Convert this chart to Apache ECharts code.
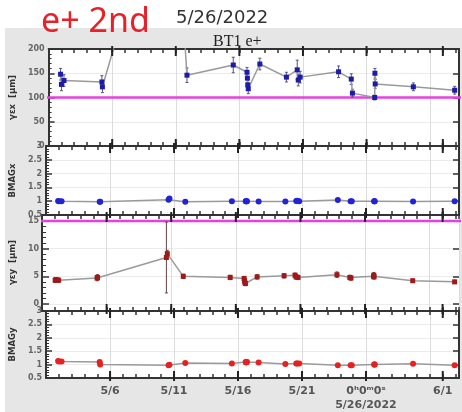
<!DOCTYPE html>
<html><head><meta charset="utf-8">
<script src="https://cdn.jsdelivr.net/npm/echarts@6/dist/echarts.min.js"></script>
<style>html,body{margin:0;padding:0;background:#fff}#c{width:462px;height:412px}</style>
</head><body><div id="c"></div>
<script>
// ---- data ----
const times = ['2022-05-01T22:34','2022-05-02T00:14','2022-05-02T05:02','2022-05-05T04:34','2022-05-05T05:31',
  '2022-05-10T13:41','2022-05-10T15:22','2022-05-11T21:07','2022-05-15T12:29','2022-05-16T14:24',
  '2022-05-16T15:07','2022-05-16T15:50','2022-05-16T16:48','2022-05-17T14:38','2022-05-19T16:48',
  '2022-05-20T13:12','2022-05-20T15:07','2022-05-20T18:43','2022-05-23T19:12','2022-05-24T19:12',
  '2022-05-24T21:22','2022-05-26T15:22','2022-05-26T15:50','2022-05-26T16:19','2022-05-29T16:19','2022-06-01T22:19'];
const emitX    = [148,127,135,132,122,600,650,146,167,152,140,126,118,169,142,157,136,142,153,138,109,100,150,128,122,115];
const emitXErr = [12,13,12,13,12,40,40,15,16,10,10,10,10,12,10,20,12,12,12,11,8,5,10,9,8,8];
const bmagX    = [1.01,1.0,1.0,0.98,0.98,1.05,1.1,0.98,1.0,1.0,1.0,1.0,1.0,0.99,0.99,1.01,1.02,1.0,1.04,1.0,1.0,1.0,1.0,1.0,0.99,1.0];
const emitY    = [4.3,4.4,4.3,4.7,4.8,8.4,9.1,5.0,4.8,4.6,4.2,3.9,3.7,4.9,5.1,5.2,4.9,4.8,5.3,4.8,4.7,5.0,5.2,4.9,4.2,4.0];
const emitYErr = [0.4,0.4,0.4,0.5,0.5,6.4,0.6,0.4,0.4,0.4,0.4,0.4,0.4,0.4,0.4,0.4,0.4,0.4,0.5,0.4,0.4,0.4,0.5,0.4,0.3,0.3];
const bmagY    = [1.13,1.12,1.12,1.1,1.0,0.98,0.99,1.06,1.04,1.1,1.08,1.1,1.1,1.08,1.02,1.04,1.04,1.04,0.98,0.98,0.98,1.0,1.0,1.0,1.03,0.98];
const emitXLimit = 100;
const emitYLimit = 15;
const majorTickDates = ['2022-05-06','2022-05-11','2022-05-16','2022-05-21','2022-05-26','2022-06-01'];
const majorTickLabels = ['5/6','5/11','5/16','5/21','0\u02B00\u1D500\u02E2\n5/26/2022','6/1'];
const startDate = '2022-05-01T00:00';
const endDay = 32.27;

// ---- helpers ----
const DAY0 = Date.parse(startDate);
const toDay = s => (Date.parse(s.length === 10 ? s + 'T00:00' : s) - DAY0) / 864e5;
const xs = times.map(toDay);
const majorDays = majorTickDates.map(toDay);
const pairs = arr => arr.map((v, i) => [xs[i], v]);
const triples = (arr, err) => arr.map((v, i) => [xs[i], v, err[i]]);

const AX = '#333';
const F = 'DejaVu Sans';
const grids = [
  {left: 42, right: 3, top: 49, height: 97},   // 0 emit x
  {left: 42, right: 3, top: 146, height: 69},  // 1 BMAGx
  {left: 42, right: 3, top: 215, height: 96},  // 2 frame of emit y
  {left: 42, right: 3, top: 221, height: 83},  // 3 emit y data
  {left: 42, right: 3, top: 311, height: 69}   // 4 BMAGy
].map(g => Object.assign(g, {show: true, backgroundColor: '#fff', borderWidth: 0}));
grids[3].backgroundColor = 'transparent';

const xAxis = [];
const xIdx = {};
function addFrameX(gi, labels) {
  ['bottom', 'top'].forEach(pos => {
    const minorIndex = xAxis.length;
    xAxis.push({type: 'value', gridIndex: gi, min: 0, max: endDay, interval: 1, position: pos,
      axisLine: {show: true, onZero: false, lineStyle: {color: AX, width: 2}},
      axisTick: {show: true, inside: true, length: 4, lineStyle: {color: AX, width: 1.5}},
      axisLabel: {show: false}, splitLine: {show: false}});
    if (pos === 'bottom') xIdx[gi] = minorIndex;
  });
  xAxis.push({type: 'value', gridIndex: gi, min: 0, max: endDay, position: 'bottom',
    axisLine: {show: false, onZero: false},
    axisTick: {show: false},
    axisLabel: {show: labels, customValues: majorDays, margin: 6,
      fontFamily: F, fontSize: 11, fontWeight: 'bold', color: '#555', lineHeight: 14,
      formatter: v => { let k = 0, b = 1e9; majorDays.forEach((d, i) => { if (Math.abs(d - v) < b) { b = Math.abs(d - v); k = i; } }); return majorTickLabels[k]; }},
    splitLine: {show: true, lineStyle: {color: '#dcdcdc', width: 1}}});
}
addFrameX(0, false);
addFrameX(1, false);
addFrameX(2, false);
xIdx[3] = xAxis.length;
xAxis.push({type: 'value', gridIndex: 3, min: 0, max: endDay, show: false});
addFrameX(4, true);

const lblStyle = {fontFamily: F, fontSize: 8, fontWeight: 'bold', color: '#666', margin: 4};
const nameStyle = {fontFamily: F, fontSize: 8.5, fontWeight: 'bold', color: '#333'};
const yAxis = [];
const yIdx = {};
function addY(gi, min, max, interval, name, nameGap, showLine) {
  yIdx[gi] = yAxis.length;
  yAxis.push({type: 'value', gridIndex: gi, min, max, interval, position: 'left',
    name, nameLocation: 'middle', nameGap, nameRotate: 90, nameTextStyle: nameStyle,
    axisLine: {show: showLine, onZero: false, lineStyle: {color: AX, width: 2}},
    axisTick: {show: true, inside: true, length: 6, lineStyle: {color: AX, width: 1.5}},
    minorTick: {show: true, splitNumber: 5, length: 3, lineStyle: {color: AX, width: 1}},
    axisLabel: lblStyle,
    splitLine: {show: true, lineStyle: {color: '#ececec', width: 1}}});
  yAxis.push({type: 'value', gridIndex: gi, min, max, interval, position: 'right',
    axisLine: {show: showLine, onZero: false, lineStyle: {color: AX, width: 2}},
    axisTick: {show: true, inside: true, length: 6, lineStyle: {color: AX, width: 1.5}},
    axisLabel: {show: false}, splitLine: {show: false}});
}
addY(0, 0, 200, 50, '\u03B3\u03B5x  [\u03BCm]', 22, true);
addY(1, 0.5, 3, 0.5, 'BMAGx', 22, true);
// frame for emit-y panel: only borders
yIdx[2] = yAxis.length;
yAxis.push({type: 'value', gridIndex: 2, min: 0, max: 1, position: 'left', axisLine: {show: true, lineStyle: {color: AX, width: 2}}, axisTick: {show: false}, axisLabel: {show: false}, splitLine: {show: false}});
yAxis.push({type: 'value', gridIndex: 2, min: 0, max: 1, position: 'right', axisLine: {show: true, lineStyle: {color: AX, width: 2}}, axisTick: {show: false}, axisLabel: {show: false}, splitLine: {show: false}});
addY(3, 0, 15, 5, '\u03B3\u03B5y  [\u03BCm]', 22, false);
addY(4, 0.5, 3, 0.5, 'BMAGy', 22, true);

// major (day) ticks crossing the top and bottom frame lines of a panel
function majorTickSeries(gi) {
  return {type: 'custom', xAxisIndex: xIdx[gi], yAxisIndex: yIdx[gi], clip: false, z: 5, silent: true,
    data: majorDays.map(d => [d]),
    renderItem: (params, api) => {
      const cs = params.coordSys;
      const x = api.coord([api.value(0), 0])[0];
      const top = cs.y, bot = cs.y + cs.height;
      const st = {stroke: '#222', lineWidth: 2};
      return {type: 'group', children: [
        {type: 'line', shape: {x1: x, y1: top - 3, x2: x, y2: top + 7}, style: st},
        {type: 'line', shape: {x1: x, y1: bot - 7, x2: x, y2: bot + 3}, style: st}
      ]};
    }};
}
function errSeries(gi, data, color) {
  return {type: 'custom', xAxisIndex: xIdx[gi], yAxisIndex: yIdx[gi], clip: true, z: 3, silent: true,
    data,
    renderItem: (params, api) => {
      const x = api.value(0), y = api.value(1), e = api.value(2);
      const t = api.coord([x, y + e]), b = api.coord([x, y - e]);
      const st = {stroke: color, lineWidth: 1};
      return {type: 'group', children: [
        {type: 'line', shape: {x1: t[0], y1: t[1], x2: b[0], y2: b[1]}, style: st},
        {type: 'line', shape: {x1: t[0] - 1.5, y1: t[1], x2: t[0] + 1.5, y2: t[1]}, style: st},
        {type: 'line', shape: {x1: b[0] - 1.5, y1: b[1], x2: b[0] + 1.5, y2: b[1]}, style: st}
      ]};
    }};
}
function lineSeries(gi, data, symbol, size, color) {
  return {type: 'line', xAxisIndex: xIdx[gi], yAxisIndex: yIdx[gi], data, clip: true, z: 4,
    symbol, symbolSize: size, showAllSymbol: true, animation: false,
    itemStyle: {color}, lineStyle: {color: '#9a9a9a', width: 1.5}};
}
function limitSeries(gi, val) {
  return {type: 'line', xAxisIndex: xIdx[gi], yAxisIndex: yIdx[gi], clip: false, z: 2, silent: true,
    data: [[-0.7, val], [endDay + 0.3, val]], symbol: 'none', lineStyle: {color: '#e83fe0', width: 2.5}};
}

const option = {
  animation: false,
  backgroundColor: '#fff',
  graphic: [{type: 'rect', left: 5, top: 28, shape: {width: 457, height: 384}, style: {fill: '#e6e6e6'}, z: -100}],
  title: [
    {text: 'e+ 2nd', left: 41, top: 5, padding: 0, textStyle: {fontFamily: 'Noto Sans', fontSize: 34, fontWeight: 'normal', color: '#e8202a'}},
    {text: '5/26/2022', left: 176, top: 9, padding: 0, textStyle: {fontFamily: F, fontSize: 18, fontWeight: 'normal', color: '#333'}},
    {text: 'BT1 e+', left: 213, top: 34, padding: 0, textStyle: {fontFamily: 'Liberation Serif', fontSize: 16, fontWeight: 'normal', color: '#222'}}
  ],
  grid: grids,
  xAxis, yAxis,
  series: [
    majorTickSeries(0), majorTickSeries(1), majorTickSeries(2), majorTickSeries(4),
    limitSeries(0, emitXLimit),
    errSeries(0, triples(emitX, emitXErr), '#555577'),
    lineSeries(0, pairs(emitX), 'rect', 5, '#1c1ca8'),
    lineSeries(1, pairs(bmagX), 'circle', 6, '#2222d8'),
    limitSeries(3, emitYLimit),
    errSeries(3, triples(emitY, emitYErr), '#664444'),
    lineSeries(3, pairs(emitY), 'rect', 5, '#a01818'),
    lineSeries(4, pairs(bmagY), 'circle', 6, '#e82020')
  ]
};
const chart = echarts.init(document.getElementById('c'), null, {renderer: 'canvas'});
chart.setOption(option);
</script></body></html>
